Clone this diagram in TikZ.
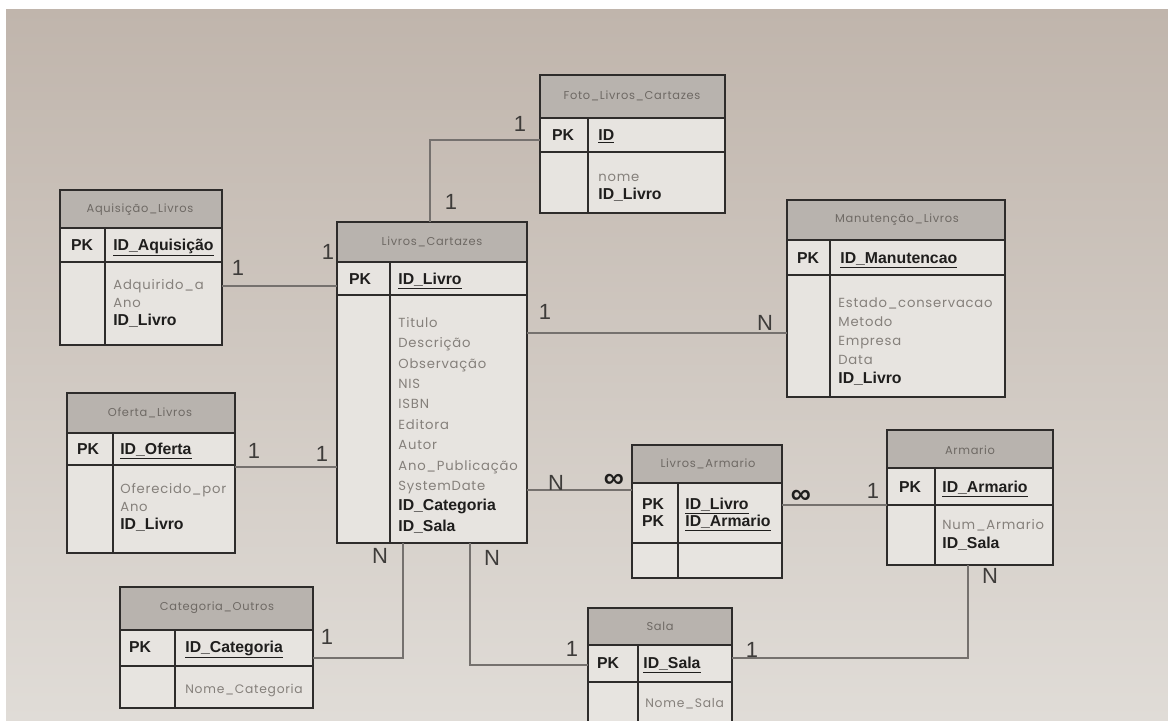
\documentclass[tikz,border=0pt]{standalone}
\usepackage{fontspec}
\setmainfont{Liberation Sans}
\newfontfamily\geo[LetterSpace=6]{Poppins}
\usetikzlibrary{fit}

\definecolor{paperTop}{HTML}{C0B5AC}
\definecolor{paperMid}{HTML}{D9D5D0}
\definecolor{paperBot}{HTML}{E0DCD7}
\definecolor{titlefillc}{HTML}{B8B3AE}
\definecolor{bodyfillc}{HTML}{E7E4E0}
\definecolor{linec}{HTML}{2E2C2B}
\definecolor{connc}{HTML}{75716E}
\definecolor{attrc}{HTML}{85807B}
\definecolor{titlec}{HTML}{6E6964}
\definecolor{inkc}{HTML}{1F1E1D}
\definecolor{labelc}{HTML}{3E3C3A}

\tikzset{
  tline/.style={draw=linec, line width=1.3pt},
  conn/.style={draw=connc, line width=0.9pt},
  ttitle/.style={font=\geo\fontsize{6.5}{8}\selectfont, text=titlec, inner sep=0pt},
  pk/.style={font=\bfseries\fontsize{9}{11}\selectfont, text=inkc, inner sep=0pt, anchor=base},
  keyfld/.style={font=\bfseries\fontsize{9}{11}\selectfont, text=inkc, inner sep=0pt, anchor=base west},
  attrs/.style={font=\geo\fontsize{7.5}{#1}\selectfont, text=attrc, align=left, inner sep=0pt, anchor=north west},
  attrs/.default=11pt,
  attrsm/.style={font=\geo\fontsize{7}{9}\selectfont, text=attrc, inner sep=0pt, anchor=north west},
  card/.style={font=\fontsize{12.5}{14}\selectfont, text=labelc, inner sep=0pt},
  many/.style={font=\bfseries\fontsize{16}{18}\selectfont, text=inkc, inner sep=0pt},
}
% foreign-key lines inside attribute lists, set in the bold sans
\newcommand\bld[1]{{\rmfamily\bfseries\fontsize{9}{11}\selectfont\color{inkc}#1}}
\newcommand\keyu[1]{\underline{#1}}

% entity box: name, left, top, right, title bottom, key bottom, bottom, key column
\newcommand\ertable[8]{%
  \fill[bodyfillc] (#2,#3) rectangle (#4,#7);
  \fill[titlefillc] (#2,#3) rectangle (#4,#5);
  \draw[tline] (#2,#5) -- (#4,#5) (#2,#6) -- (#4,#6) (#8,#5) -- (#8,#7);
  \draw[tline] (#2,#3) rectangle (#4,#7);
  \node[fit={(#2,#3) (#4,#7)}, inner sep=0pt] (#1) {};
}

\begin{document}
\begin{tikzpicture}[x=0.02cm, y=-0.02cm]
\useasboundingbox (0,0) rectangle (1168,720);
\clip (0,0) rectangle (1168,720);
\fill[white] (0,0) rectangle (1168,720);
\shade[top color=paperTop, middle color=paperMid, bottom color=paperBot] (6,9) rectangle (1168,720);

% ---------- entities ----------
\ertable{foto}{540}{75}{725}{118}{152}{213}{588}
\node[ttitle] (foto-t) at (632,96) {Foto\_Livros\_Cartazes};
\node[pk] (foto-pk) at (563,140) {PK};
\node[keyfld] (foto-id) at (598,140) {\keyu{ID}};
\node[attrs=10.2pt] (foto-b) at (598,174) {nome\\\bld{ID\_Livro}};

\ertable{aquis}{60}{190}{222}{228}{262}{345}{105}
\node[ttitle] (aquis-t) at (140,210) {Aquisição\_Livros};
\node[pk] (aquis-pk) at (82,250) {PK};
\node[keyfld] (aquis-id) at (113,250) {\keyu{ID\_Aquisição}};
\node[attrs=10.4pt] (aquis-b) at (113,279) {Adquirido\_a\\Ano\\\bld{ID\_Livro}};

\ertable{livros}{337}{222}{527}{262}{295}{543}{390}
\node[ttitle] (livros-t) at (432,242) {Livros\_Cartazes};
\node[pk] (livros-pk) at (360,284) {PK};
\node[keyfld] (livros-id) at (398,284) {\keyu{ID\_Livro}};
\node[attrs=11.6pt] (livros-b) at (398,317) {Titulo\\Descrição\\Observação\\NIS\\ISBN\\Editora\\Autor\\Ano\_Publicação\\SystemDate\\\bld{ID\_Categoria}\\\bld{ID\_Sala}};

\ertable{manut}{787}{200}{1005}{240}{275}{397}{830}
\node[ttitle] (manut-t) at (897,220) {Manutenção\_Livros};
\node[pk] (manut-pk) at (808,263) {PK};
\node[keyfld] (manut-id) at (840,263) {\keyu{ID\_Manutencao}};
\node[attrs=10.8pt] (manut-b) at (838,297) {Estado\_conservacao\\Metodo\\Empresa\\Data\\\bld{ID\_Livro}};

\ertable{oferta}{67}{393}{235}{433}{465}{553}{113}
\node[ttitle] (oferta-t) at (150,413) {Oferta\_Livros};
\node[pk] (oferta-pk) at (88,454) {PK};
\node[keyfld] (oferta-id) at (120,454) {\keyu{ID\_Oferta}};
\node[attrs=10.4pt] (oferta-b) at (120,483) {Oferecido\_por\\Ano\\\bld{ID\_Livro}};

\ertable{larm}{632}{445}{782}{483}{543}{578}{678}
\node[ttitle] (larm-t) at (708,464) {Livros\_Armario};
\node[pk] (larm-pk1) at (653,509) {PK};
\node[pk] (larm-pk2) at (653,526) {PK};
\node[keyfld] (larm-id1) at (685,509) {\keyu{ID\_Livro}};
\node[keyfld] (larm-id2) at (685,526) {\keyu{ID\_Armario}};

\ertable{armario}{887}{430}{1053}{468}{505}{565}{935}
\node[ttitle] (armario-t) at (970,450) {Armario};
\node[pk] (armario-pk) at (910,492) {PK};
\node[keyfld] (armario-id) at (942,492) {\keyu{ID\_Armario}};
\node[attrs=10.8pt] (armario-b) at (942,519) {Num\_Armario\\\bld{ID\_Sala}};

\ertable{categ}{120}{587}{313}{630}{666}{708}{175}
\node[ttitle] (categ-t) at (217,608) {Categoria\_Outros};
\node[pk] (categ-pk) at (140,652) {PK};
\node[keyfld] (categ-id) at (185,652) {\keyu{ID\_Categoria}};
\node[attrsm] (categ-b) at (185,684) {Nome\_Categoria};

\ertable{sala}{588}{608}{732}{645}{682}{735}{638}
\node[ttitle] (sala-t) at (660,626) {Sala};
\node[pk] (sala-pk) at (608,668) {PK};
\node[keyfld] (sala-id) at (643,668) {\keyu{ID\_Sala}};
\node[attrsm] (sala-b) at (645,698) {Nome\_Sala};

% ---------- relationships ----------
\coordinate (k1) at (430,140);
\coordinate (k2) at (0,286);
\coordinate (k3) at (0,333);
\coordinate (k4) at (0,467);
\coordinate (k5) at (0,490);
\coordinate (k6) at (0,505);
\coordinate (k7) at (403,658);
\coordinate (k8) at (470,665);
\coordinate (k9) at (968,658);

\draw[conn] (livros.north -| k1) |- (foto.west |- k1);
\draw[conn] (aquis.east |- k2) -- (livros.west |- k2);
\draw[conn] (livros.east |- k3) -- (manut.west |- k3);
\draw[conn] (oferta.east |- k4) -- (livros.west |- k4);
\draw[conn] (livros.east |- k5) -- (larm.west |- k5);
\draw[conn] (larm.east |- k6) -- (armario.west |- k6);
\draw[conn] (livros.south -| k7) |- (categ.east |- k7);
\draw[conn] (livros.south -| k8) |- (sala.west |- k8);
\draw[conn] (sala.east |- k9) -| (armario.south -| k9);

% cardinalities
\node[card] (c1a) at (520,124) {1};
\node[card] (c1b) at (451,202) {1};
\node[card] (c2a) at (238,268) {1};
\node[card] (c2b) at (328,252) {1};
\node[card] (c3a) at (545,312) {1};
\node[card] (c3b) at (765,323) {N};
\node[card] (c4a) at (254,451) {1};
\node[card] (c4b) at (322,454) {1};
\node[card] (c5a) at (556,483) {N};
\node[many] (c5b) at (614,481) {∞};
\node[many] (c6a) at (801,497) {∞};
\node[card] (c6b) at (873,491) {1};
\node[card] (c7a) at (380,556) {N};
\node[card] (c7b) at (327,637) {1};
\node[card] (c8a) at (492,558) {N};
\node[card] (c8b) at (572,649) {1};
\node[card] (c9a) at (752,650) {1};
\node[card] (c9b) at (990,576) {N};
\end{tikzpicture}
\end{document}
